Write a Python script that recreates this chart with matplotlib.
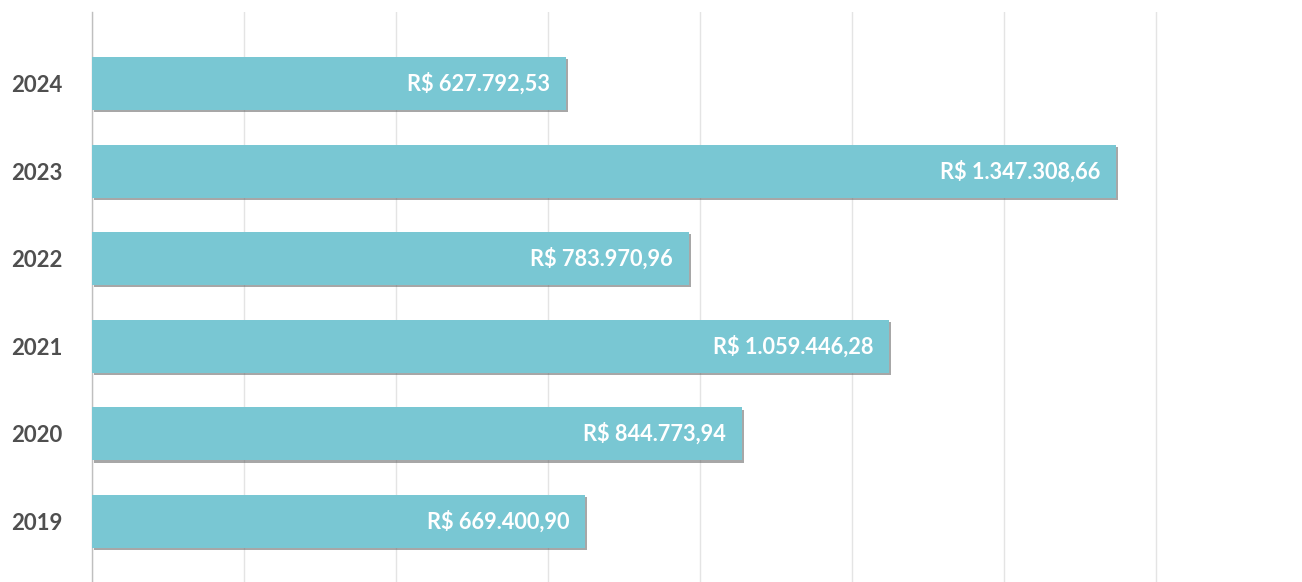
import numpy as np
import matplotlib
matplotlib.use('Agg')
import matplotlib.pyplot as plt
import matplotlib.patheffects as pe

# dados (comprimento das barras; rotulos como no grafico)
anos = ['2019', '2020', '2021', '2022', '2023', '2024']
valores = [648700, 855300, 1048700, 785500, 1347300, 623700]
rotulos = ['R$ 669.400,90', 'R$ 844.773,94', 'R$ 1.059.446,28',
           'R$ 783.970,96', 'R$ 1.347.308,66', 'R$ 627.792,53']

plt.rcParams['font.family'] = ['Lato', 'DejaVu Sans']

fig = plt.figure(figsize=(13.02, 5.82), dpi=100)
ax = fig.add_axes([92/1302, 0, 1 - 92/1302, 1 - 12/582])

y = np.arange(len(anos))
barras = ax.barh(y, valores, height=0.605, color='#79c7d3', zorder=3)
for b in barras:
    b.set_path_effects([pe.SimplePatchShadow(offset=(1.5, -1.5), shadow_rgbFace='#606060', alpha=0.55),
                        pe.Normal()])

for yi, v, r in zip(y, valores, rotulos):
    ax.annotate(r, (v, yi), xytext=(-16, 0), textcoords='offset pixels',
                ha='right', va='center', color='white', fontsize=15.7, fontweight='bold', zorder=4)

ax.set_yticks(y)
ax.set_yticklabels(anos, fontsize=16, fontweight='bold', color='#4f4f4f')
ax.tick_params(axis='y', length=0, pad=21)
ax.tick_params(axis='x', length=0, labelbottom=False)

ax.set_xticks(np.arange(0, 1600001, 200000))
ax.set_xlim(0, 1592105)
ax.set_ylim(-0.69, 5.816)
ax.grid(axis='x', color='#e4e4e4', linewidth=1, zorder=0)

for s in ['top', 'right', 'bottom']:
    ax.spines[s].set_visible(False)
ax.spines['left'].set_color('#bfbfbf')
ax.spines['left'].set_linewidth(1)

fig.savefig('out.png', dpi=100)
